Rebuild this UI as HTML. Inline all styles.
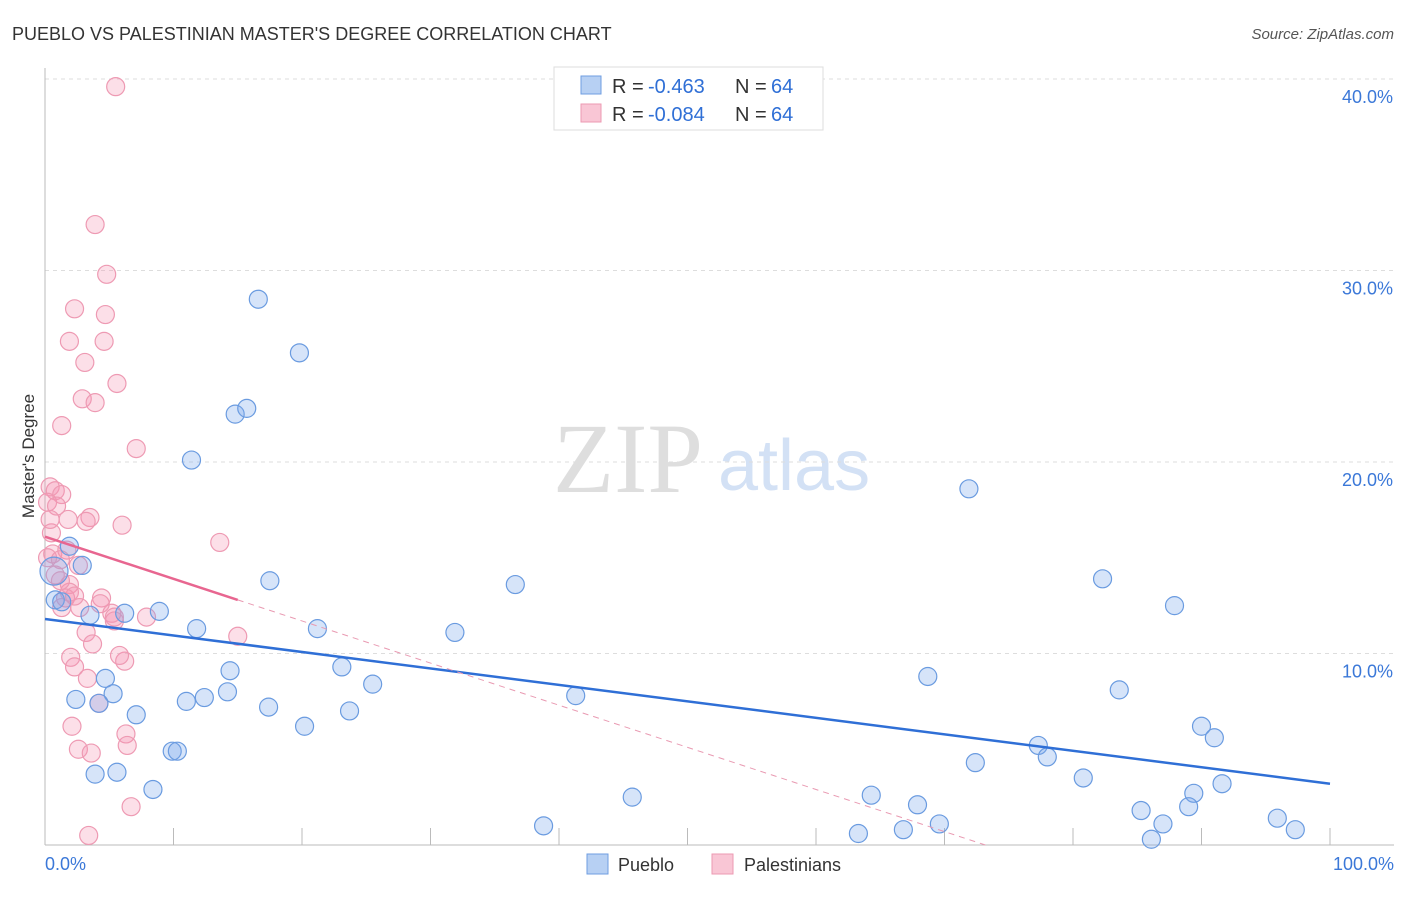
<!DOCTYPE html>
<html><head><meta charset="utf-8"><style>
body{margin:0;background:#fff;font-family:"Liberation Sans",sans-serif}
svg text{font-family:"Liberation Sans",sans-serif}
</style></head><body>
<svg id="chart" width="1406" height="892" xmlns="http://www.w3.org/2000/svg">
<text x="12" y="40" font-size="18" fill="#333">PUEBLO VS PALESTINIAN MASTER'S DEGREE CORRELATION CHART</text>
<text x="1394" y="39" font-size="15" fill="#555" text-anchor="end" font-style="italic">Source: ZipAtlas.com</text>
<text x="553" y="492" font-size="100" fill="#dedede" style="font-family:'Liberation Serif',serif">ZIP</text>
<text x="718" y="490" font-size="72" fill="#d3e1f5">atlas</text>
<g id="grid"></g><g id="axes"></g><g id="marks"></g><g id="trends"></g>
<text transform="translate(34,456) rotate(-90)" font-size="17" fill="#333" text-anchor="middle">Master's Degree</text>
<g>
<rect x="554" y="67" width="269" height="63" fill="#fff" stroke="#ddd"/>
<rect x="581" y="76" width="20" height="18" fill="#b7d0f3" stroke="#6f9ee0"/>
<rect x="581" y="104" width="20" height="18" fill="#f9c6d5" stroke="#ec9ab2"/>
<text x="612" y="93" font-size="20" fill="#333">R =</text>
<text x="648" y="93" font-size="20" fill="#2f6fd6">-0.463</text>
<text x="735" y="93" font-size="20" fill="#333">N =</text>
<text x="771" y="93" font-size="20" fill="#2f6fd6">64</text>
<text x="612" y="121" font-size="20" fill="#333">R =</text>
<text x="648" y="121" font-size="20" fill="#2f6fd6">-0.084</text>
<text x="735" y="121" font-size="20" fill="#333">N =</text>
<text x="771" y="121" font-size="20" fill="#2f6fd6">64</text>
</g>
<g>
<rect x="587" y="854" width="21" height="20" fill="#b7d0f3" stroke="#6f9ee0"/>
<text x="618" y="871" font-size="18" fill="#333">Pueblo</text>
<rect x="712" y="854" width="21" height="20" fill="#f9c6d5" stroke="#ec9ab2"/>
<text x="744" y="871" font-size="18" fill="#333">Palestinians</text>
</g>
</svg>
<script>
const yTicks=[10,20,30,40];
const yTickLabels=["10.0%","20.0%","30.0%","40.0%"];
const xTickLabels=["0.0%","100.0%"];
const puebloX=[16.6,19.8,14.8,15.7,11.4,71.9,1.9,2.9,0.7,17.5,36.6,82.3,87.9,0.8,1.3,6.2,3.5,8.9,11.8,21.2,31.9,14.4,23.1,68.7,25.5,4.7,5.3,2.4,11.0,12.4,14.2,83.6,41.3,4.2,17.4,7.1,23.7,20.2,90.0,91.0,9.9,10.3,72.4,77.3,78.0,3.9,5.6,80.8,8.4,45.7,64.3,91.6,89.4,67.9,89.0,85.3,38.8,87.0,69.6,95.9,63.3,66.8,97.3,86.1];
const puebloY=[28.5,25.7,22.5,22.8,20.1,18.6,15.6,14.6,14.3,13.8,13.6,13.9,12.5,12.8,12.7,12.1,12.0,12.2,11.3,11.3,11.1,9.1,9.3,8.8,8.4,8.7,7.9,7.6,7.5,7.7,8.0,8.1,7.8,7.4,7.2,6.8,7.0,6.2,6.2,5.6,4.9,4.9,4.3,5.2,4.6,3.7,3.8,3.5,2.9,2.5,2.6,3.2,2.7,2.1,2.0,1.8,1.0,1.1,1.1,1.4,0.6,0.8,0.8,0.3];
const palX=[5.5,3.9,4.8,2.3,4.7,1.9,4.6,3.1,5.6,2.9,3.9,1.3,7.1,0.4,0.8,1.3,0.2,0.9,3.5,6.0,1.8,3.2,13.6,0.5,0.6,1.7,0.2,1.2,2.6,0.8,1.9,1.9,1.6,1.3,2.7,5.2,5.4,7.9,15.0,3.2,3.7,2.0,2.3,6.2,3.3,2.1,2.6,6.3,6.4,3.6,6.7,3.4,4.4,5.4,4.3,0.4,4.2,5.8,2.3,1.2];
const palY=[39.6,32.4,29.8,28.0,27.7,26.3,26.3,25.2,24.1,23.3,23.1,21.9,20.7,18.7,18.5,18.3,17.9,17.7,17.1,16.7,17.0,16.9,15.8,16.3,15.2,15.4,15.0,14.9,14.6,14.1,13.6,13.2,12.9,12.4,12.4,12.1,11.9,11.9,10.9,11.1,10.5,9.8,9.3,9.6,8.7,6.2,5.0,5.8,5.2,4.8,2.0,0.5,12.9,11.7,12.6,17.0,7.4,9.9,13.0,13.8];
const puebloTrend=[11.8,-0.086];
const palTrend=[16.1,-0.22];
const X=v=>45+v*12.85, Y=v=>845-v*19.15;
const NS="http://www.w3.org/2000/svg";
function mk(tag,attrs,parent){const e=document.createElementNS(NS,tag);for(const k in attrs)e.setAttribute(k,attrs[k]);document.getElementById(parent).appendChild(e);return e;}
yTicks.forEach((t,i)=>{
 const g=mk('line',{x1:45,x2:1394,y1:Y(t),y2:Y(t),stroke:'#ddd','stroke-dasharray':'4,4'},'grid');
 
 
 const l=mk('text',{x:1393,y:Y(t)+24,'font-size':18,fill:'#3b78d8','text-anchor':'end'},'grid');
 l.textContent=yTickLabels[i];
 
 
});
const ax=mk('line',{x1:45,x2:45,y1:68,y2:845,stroke:'#bbb'},'axes');


const bx=mk('line',{x1:45,x2:1394,y1:845,y2:845,stroke:'#bbb'},'axes');


for(let i=1;i<=10;i++){const t=mk('line',{x1:X(i*10),x2:X(i*10),y1:828,y2:845,stroke:'#bbb'},'axes');
 
 }
[[0,'start',45],[100,'end',1394]].forEach((d,i)=>{const l=mk('text',{x:d[2],y:870,'font-size':18,fill:'#3b78d8','text-anchor':d[1]},'axes');l.textContent=xTickLabels[i];
 
 });
palX.forEach((x,i)=>{const c=mk('circle',{cx:X(x),cy:Y(palY[i]),r:9,fill:'rgba(244,150,178,0.3)',stroke:'#ee9ab3','stroke-width':1.2},'marks');
 
 });
puebloX.forEach((x,i)=>{const c=mk('circle',{cx:X(x),cy:Y(puebloY[i]),r:i==8?14:9,fill:'rgba(120,165,235,0.3)',stroke:'#6a9be0','stroke-width':1.2},'marks');
 
 });
const bt=mk('line',{x1:X(0),y1:Y(puebloTrend[0]),x2:X(100),y2:Y(puebloTrend[0]+100*puebloTrend[1]),stroke:'#2f6fd6','stroke-width':2.5},'trends');


const pt=mk('line',{x1:X(0),y1:Y(palTrend[0]),x2:X(15),y2:Y(palTrend[0]+15*palTrend[1]),stroke:'#e86690','stroke-width':2.5},'trends');


const xe=-palTrend[0]/palTrend[1];
const pd=mk('line',{x1:X(15),y1:Y(palTrend[0]+15*palTrend[1]),x2:X(xe),y2:Y(0),stroke:'#e99ab2','stroke-width':1,'stroke-dasharray':'6,5'},'trends');


</script>
</body></html>
